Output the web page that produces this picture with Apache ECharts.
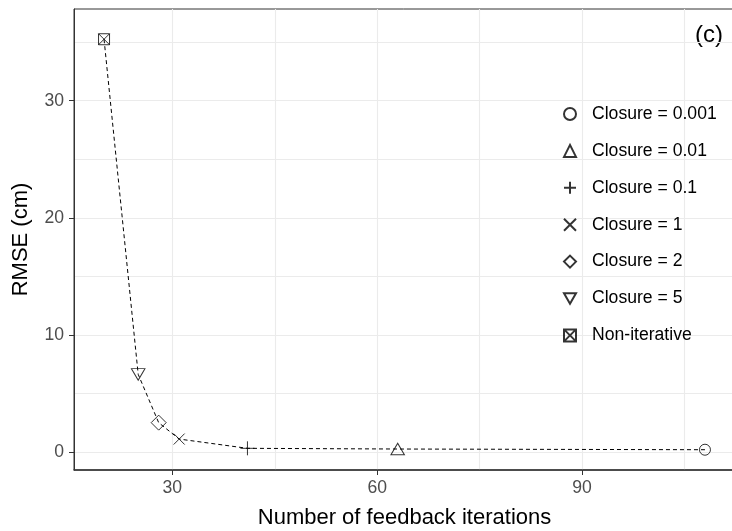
<!DOCTYPE html>
<html>
<head>
<meta charset="utf-8">
<script src="https://cdn.jsdelivr.net/npm/echarts@6/dist/echarts.min.js"></script>
<style>
  html, body { margin: 0; padding: 0; background: #fff; }
  #main { width: 732px; height: 531px; }
</style>
</head>
<body>
<div id="main"></div>
<script>
// data
var closureNames = ['Closure = 0.001', 'Closure = 0.01', 'Closure = 0.1', 'Closure = 1', 'Closure = 2', 'Closure = 5', 'Non-iterative'];
var iterations = [108, 63, 41, 31, 28, 25, 20];
var rmse = [0.22, 0.28, 0.34, 1.13, 2.53, 6.65, 35.24];

// axis ticks / grid lines
var xTicks = [30, 60, 90];
var xMinor = [45, 75, 105];
var yTicks = [0, 10, 20, 30];
var yMinor = [5, 15, 25, 35];

// ggplot shapes 1..7
var shapes = [
  'circle',
  'triangle',
  'path://M5,0L5,10M0,5L10,5',
  'path://M0,0L10,10M10,0L0,10',
  'diamond',
  'path://M0,0L10,0L5,8.66Z',
  'path://M0,0L10,0L10,10L0,10ZM0,0L10,10M10,0L0,10'
];
var sizes = [11, [13.5, 11.5], 14, 11, [15, 15], [13.5, 11.5], 11];

var font = '"Liberation Sans", Arial, sans-serif';
var chart = echarts.init(document.getElementById('main'));

// dashed line through points sorted by x
var linePts = iterations.map(function (x, i) { return [x, rmse[i]]; })
  .sort(function (a, b) { return a[0] - b[0]; });

var gridLines = [];
xTicks.concat(xMinor).forEach(function (v) { gridLines.push({ xAxis: v }); });
yTicks.concat(yMinor).forEach(function (v) { gridLines.push({ yAxis: v }); });

var series = [
  {
    type: 'line',
    data: [],
    silent: true,
    markLine: {
      silent: true,
      symbol: 'none',
      z: 0,
      animation: false,
      label: { show: false },
      lineStyle: { color: '#EBEBEB', type: 'solid', width: 1.1 },
      data: gridLines
    }
  },
  {
    type: 'line',
    data: linePts,
    symbol: 'none',
    silent: true,
    z: 3,
    lineStyle: { color: '#000', width: 1, type: [4, 3] }
  }
];
closureNames.forEach(function (name, i) {
  series.push({
    name: name,
    type: 'scatter',
    data: [[iterations[i], rmse[i]]],
    symbol: shapes[i],
    symbolSize: sizes[i],
    z: 4,
    itemStyle: { color: 'rgba(0,0,0,0)', borderColor: '#000', borderWidth: 1 }
  });
});

var option = {
  animation: false,
  backgroundColor: '#fff',
  grid: {
    left: 74, right: -3, top: 9, bottom: 61,
    outerBoundsMode: 'none',
    containLabel: false,
    show: true, borderColor: '#333', borderWidth: 1
  },
  xAxis: {
    type: 'value',
    min: 15.6, max: 112.4,
    name: 'Number of feedback iterations',
    nameLocation: 'middle',
    nameGap: 37,
    nameTextStyle: { fontSize: 22, color: '#000', fontFamily: font },
    axisLine: { show: true, onZero: false, lineStyle: { color: '#333', width: 1.5 } },
    axisTick: { show: true, length: 5, customValues: xTicks, lineStyle: { color: '#333' } },
    axisLabel: { customValues: xTicks, fontSize: 17.6, color: '#4D4D4D', fontFamily: font, margin: 9 },
    splitLine: { show: false }
  },
  yAxis: {
    type: 'value',
    min: -1.51, max: 37.82,
    name: 'RMSE (cm)',
    nameLocation: 'middle',
    nameGap: 42,
    nameTextStyle: { fontSize: 22, color: '#000', fontFamily: font },
    axisLine: { show: true, onZero: false, lineStyle: { color: '#333', width: 1 } },
    axisTick: { show: true, length: 5, customValues: yTicks, lineStyle: { color: '#333' } },
    axisLabel: { customValues: yTicks, fontSize: 17.6, color: '#4D4D4D', fontFamily: font, margin: 10 },
    splitLine: { show: false }
  },
  legend: {
    orient: 'vertical',
    left: 563,
    top: 105,
    padding: 0,
    itemWidth: 12,
    itemHeight: 12,
    itemGap: 18.9,
    selectedMode: false,
    data: closureNames,
    textStyle: { fontSize: 17.6, lineHeight: 16, color: '#000', fontFamily: font, padding: [0, 0, 0, 11] }
  },
  graphic: [{
    type: 'text',
    right: 9,
    top: 23,
    style: { text: '(c)', fontSize: 24, fill: '#000', font: '24px ' + font }
  }],
  series: series
};
chart.setOption(option);
</script>
</body>
</html>
